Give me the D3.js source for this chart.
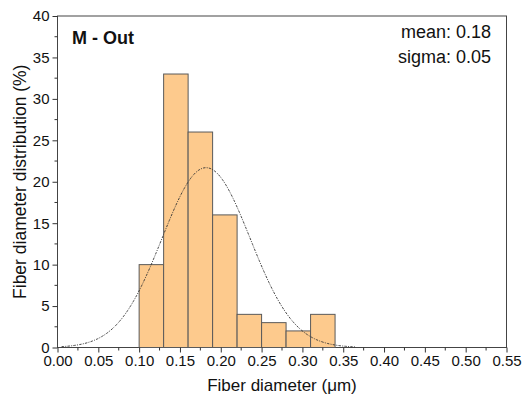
<!DOCTYPE html>
<html>
<head>
<meta charset="utf-8">
<script src="https://cdn.jsdelivr.net/npm/d3@7"></script>
<style>
  body { margin: 0; background: #fff; }
  svg { display: block; font-family: "Liberation Sans", Arial, sans-serif; }
</style>
</head>
<body>
<svg id="chart" width="527" height="403"></svg>
<script>
// ---- data ----
const binStarts = [0.10, 0.13, 0.16, 0.19, 0.22, 0.25, 0.28, 0.31];
const binWidth = 0.03;
const percents = [10, 33, 26, 16, 4, 3, 2, 4];
const xTicks = [0.00, 0.05, 0.10, 0.15, 0.20, 0.25, 0.30, 0.35, 0.40, 0.45, 0.50, 0.55];
const yTicks = [0, 5, 10, 15, 20, 25, 30, 35, 40];
// normal fit parameters (curve drawn from these)
const fitMean = 0.182;
const fitSigma = 0.054;
const fitPeak = 21.7;
const fitRange = [0.005, 0.365];
const titleText = "M - Out";
const statLines = ["mean: 0.18", "sigma: 0.05"];

// ---- layout ----
const svg = d3.select("#chart");
const m = { left: 57.5, right: 506.5, top: 16, bottom: 347.5 };
const x = d3.scaleLinear().domain([0, 0.55]).range([m.left, m.right]);
const y = d3.scaleLinear().domain([0, 40]).range([m.bottom, m.top]);

// frame
svg.append("rect")
  .attr("x", m.left).attr("y", m.top)
  .attr("width", m.right - m.left).attr("height", m.bottom - m.top)
  .attr("fill", "none").attr("stroke", "#444").attr("stroke-width", 1);

// bars
svg.append("g").selectAll("rect").data(percents).join("rect")
  .attr("x", (d, i) => x(binStarts[i]))
  .attr("y", d => y(d))
  .attr("width", (d, i) => x(binStarts[i] + binWidth) - x(binStarts[i]))
  .attr("height", d => y(0) - y(d))
  .attr("fill", "#FDCA8D")
  .attr("stroke", "#5a5a5a")
  .attr("stroke-width", 1);

// fit curve
const xs = d3.range(fitRange[0], fitRange[1] + 1e-9, 0.002);
const line = d3.line()
  .x(d => x(d))
  .y(d => y(fitPeak * Math.exp(-((d - fitMean) ** 2) / (2 * fitSigma * fitSigma))));
svg.append("path")
  .datum(xs)
  .attr("d", line)
  .attr("fill", "none")
  .attr("stroke", "#333")
  .attr("stroke-width", 0.9)
  .attr("stroke-dasharray", "2.5,1.2,1,1.2");

// axes
const xAxis = d3.axisBottom(x).tickValues(xTicks).tickFormat(d3.format(".2f"))
  .tickSize(5).tickPadding(3);
const gx = svg.append("g").attr("transform", `translate(0,${m.bottom})`).call(xAxis);
const yAxis = d3.axisLeft(y).tickValues(yTicks).tickFormat(d3.format("d"))
  .tickSize(5).tickPadding(3);
const gy = svg.append("g").attr("transform", `translate(${m.left},0)`).call(yAxis);
[gx, gy].forEach(g => {
  g.select(".domain").remove();
  g.attr("font-size", 15).attr("font-family", "Liberation Sans, Arial, sans-serif");
  g.selectAll("line").attr("stroke", "#333");
  g.selectAll("text").attr("fill", "#111");
});

// minor ticks
const xMinor = xTicks.slice(0, -1).map(v => v + 0.025);
svg.append("g").selectAll("line").data(xMinor).join("line")
  .attr("x1", d => x(d)).attr("x2", d => x(d))
  .attr("y1", m.bottom).attr("y2", m.bottom + 3)
  .attr("stroke", "#333");
const yMinor = yTicks.slice(0, -1).map(v => v + 2.5);
svg.append("g").selectAll("line").data(yMinor).join("line")
  .attr("x1", m.left - 3).attr("x2", m.left)
  .attr("y1", d => y(d)).attr("y2", d => y(d))
  .attr("stroke", "#333");

// axis titles
svg.append("text")
  .attr("x", (m.left + m.right) / 2).attr("y", 391)
  .attr("text-anchor", "middle").attr("font-size", 17).attr("fill", "#111")
  .text("Fiber diameter (μm)");
svg.append("text")
  .attr("transform", `translate(26,${(m.top + m.bottom) / 2}) rotate(-90)`)
  .attr("text-anchor", "middle").attr("font-size", 17.5).attr("fill", "#111")
  .text("Fiber diameter distribution (%)");

// annotations
svg.append("text")
  .attr("x", 72).attr("y", 44)
  .attr("font-size", 18).attr("font-weight", "bold").attr("fill", "#111")
  .text(titleText);
svg.append("g").selectAll("text").data(statLines).join("text")
  .attr("x", 491).attr("y", (d, i) => 38 + i * 25)
  .attr("text-anchor", "end").attr("font-size", 18).attr("fill", "#111")
  .text(d => d);
</script>
</body>
</html>
